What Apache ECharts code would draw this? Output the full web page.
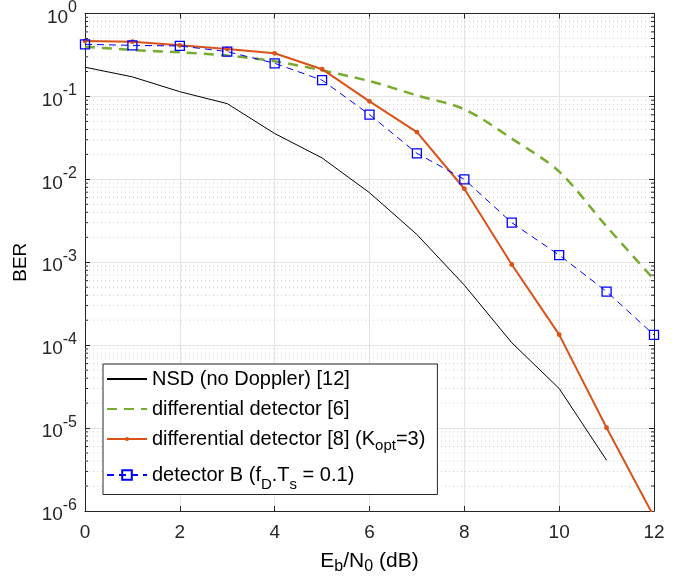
<!DOCTYPE html>
<html>
<head>
<meta charset="utf-8">
<script src="https://cdn.jsdelivr.net/npm/echarts@6/dist/echarts.min.js"></script>
<style>html,body{margin:0;padding:0;background:#fff;}#c{width:686px;height:584px;}</style>
</head>
<body>
<div id="c"></div>
<script>
var ebn0 = [0,1,2,3,4,5,6,7,8,9,10,11,12];
var nsd = [0.225,0.172,0.114,0.0818,0.0357,0.0181,0.0069,0.00216,0.00053,0.000107,0.00003,0.0000041];
var diff6 = [0.398,0.363,0.34,0.311,0.266,0.206,0.153,0.103,0.07,0.031,0.0124,0.0027,0.00062];
var diff8 = [0.466,0.457,0.413,0.373,0.331,0.213,0.0873,0.0371,0.0077,0.00094,0.000134,0.0000101,0.00000085];
var detB = [0.425,0.413,0.406,0.347,0.251,0.157,0.0604,0.0206,0.01,0.003,0.00122,0.000443,0.000133];
var xTicks = [0,2,4,6,8,10,12];
var yMin = 1e-6, yMax = 1;
var minorVals = [];
for (var e = -6; e < 0; e++) { for (var m = 2; m <= 9; m++) { minorVals.push(m * Math.pow(10, e)); } }

function pairs(ys){ return ys.map(function(v,i){ return [ebn0[i], v]; }); }

var FONT = 'Liberation Sans, Arial, Helvetica, sans-serif';
var AX = '#262626';
// small dot inside a 10x10 box (M points extend the bounding box)
var DOT = 'path://M0,0M10,10M7.2,5A2.2,2.2,0,1,1,2.8,5A2.2,2.2,0,1,1,7.2,5Z';

var chart = echarts.init(document.getElementById('c'));
var option = {
  animation: false,
  textStyle: { fontFamily: FONT },
  grid: { left: 85, right: 32, top: 11, bottom: 73, containLabel: false },
  xAxis: [{
    type: 'value', min: 0, max: 12, interval: 2, position: 'bottom',
    name: '{m|E}{s|b}{m|/N}{s|0}{m| (dB)}', nameLocation: 'middle', nameGap: 36,
    nameTextStyle: { rich: { m: { fontSize: 21, color: '#000', fontFamily: FONT }, s: { fontSize: 16, color: '#000', verticalAlign: 'bottom', padding: [12,0,0,0], fontFamily: FONT } } },
    axisLine: { show: true, lineStyle: { color: AX, width: 1 } },
    axisTick: { show: true, inside: true, length: 5, lineStyle: { color: AX } },
    axisLabel: { fontSize: 19, color: '#262626', margin: 12, fontFamily: FONT },
    splitLine: { show: true, lineStyle: { color: '#e3e3e3', width: 1 } }
  }, {
    type: 'value', min: 0, max: 12, interval: 2, position: 'top',
    axisLine: { show: true, onZero: false, lineStyle: { color: AX, width: 1 } },
    axisTick: { show: true, inside: true, length: 5, lineStyle: { color: AX } },
    axisLabel: { show: false }, splitLine: { show: false }
  }],
  yAxis: [{
    type: 'log', logBase: 10, min: yMin, max: yMax, splitNumber: 6, position: 'left',
    name: 'BER', nameLocation: 'middle', nameGap: 54, nameRotate: 90,
    nameTextStyle: { fontSize: 19, color: '#000', fontFamily: FONT },
    axisLine: { show: true, onZero: false, lineStyle: { color: AX, width: 1 } },
    axisTick: { show: true, inside: true, length: 5, lineStyle: { color: AX } },
    axisLabel: {
      margin: 8, color: '#262626',
      formatter: function (v) { var ex = Math.round(Math.log10(v)); return '{b|10}{s|' + (ex === 0 ? '0' : String(ex)) + '}'; },
      rich: { b: { fontSize: 19, color: '#262626', fontFamily: FONT, padding: [8,0,0,0] }, s: { fontSize: 16, color: '#262626', verticalAlign: 'top', padding: [0,0,8,0], fontFamily: FONT } }
    },
    splitLine: { show: true, lineStyle: { color: '#e3e3e3', width: 1 } }
  }, {
    type: 'log', logBase: 10, min: yMin, max: yMax, splitNumber: 6, position: 'right',
    axisLine: { show: true, onZero: false, lineStyle: { color: AX, width: 1 } },
    axisTick: { show: true, inside: true, length: 5, lineStyle: { color: AX } },
    axisLabel: { show: false }, splitLine: { show: false }
  }],
  legend: {
    orient: 'vertical', left: 103, top: 364,
    data: [
      { name: 'nsd', itemStyle: { opacity: 0 } },
      { name: 'diff6', itemStyle: { opacity: 0 } },
      { name: 'diff8' },
      { name: 'detB' }
    ],
    backgroundColor: '#fff', borderColor: AX, borderWidth: 1,
    padding: [5, 12, 2, 3], itemGap: 10, itemWidth: 40, itemHeight: 12,
    formatter: function (n) {
      if (n === 'nsd') return '{m|NSD (no Doppler) [12]}';
      if (n === 'diff6') return '{m|differential detector [6]}';
      if (n === 'diff8') return '{m|differential detector [8] (K}{s|opt}{m|=3)}';
      return '{t|detector B (f}{u|D}{t|.T}{u|s}{t| = 0.1)}';
    },
    textStyle: {
      color: '#000', padding: [0,0,0,0],
      rich: {
        m: { fontSize: 20, color: '#000', fontFamily: FONT },
        s: { fontSize: 15, color: '#000', verticalAlign: 'bottom', padding: [14,0,0,0], fontFamily: FONT },
        t: { fontSize: 20, color: '#000', fontFamily: FONT, lineHeight: 35 },
        u: { fontSize: 15, color: '#000', verticalAlign: 'bottom', padding: [14,0,0,0], fontFamily: FONT, lineHeight: 35 }
      }
    }
  },
  series: [
    {
      type: 'custom', name: 'minor', z: 1, silent: true, clip: true,
      xAxisIndex: 0, yAxisIndex: 0,
      data: minorVals.map(function (v) { return [0, v]; }),
      renderItem: function (params, api) {
        var v = api.value(1);
        var p0 = api.coord([0, v]);
        var p1 = api.coord([12, v]);
        return { type: 'group', children: [
          { type: 'line', shape: { x1: p0[0], y1: p0[1], x2: p1[0], y2: p1[1] }, style: { stroke: '#cfcfcf', lineWidth: 1, lineDash: [1, 3] } },
          { type: 'line', shape: { x1: p0[0], y1: p0[1], x2: p0[0] + 3, y2: p0[1] }, style: { stroke: AX, lineWidth: 1 } },
          { type: 'line', shape: { x1: p1[0], y1: p1[1], x2: p1[0] - 3, y2: p1[1] }, style: { stroke: AX, lineWidth: 1 } }
        ]};
      }
    },
    {
      name: 'nsd', type: 'line', data: pairs(nsd), showSymbol: false, symbol: 'none', z: 3,
      lineStyle: { color: '#000', width: 1 }, itemStyle: { color: '#000' }
    },
    {
      name: 'diff6', type: 'line', data: pairs(diff6), showSymbol: false, symbol: 'none', z: 3, smooth: 0.3,
      lineStyle: { color: '#77AC30', width: 2.5, type: [10, 7] }, itemStyle: { color: '#77AC30' }
    },
    {
      name: 'diff8', type: 'line', data: pairs(diff8), symbol: DOT, symbolSize: 11, z: 4, clip: true,
      lineStyle: { color: '#D95319', width: 2 }, itemStyle: { color: '#D95319' }
    },
    {
      name: 'detB', type: 'line', data: pairs(detB), symbol: 'rect', symbolSize: 9, z: 5,
      lineStyle: { color: '#0000FF', width: 1, type: [7, 5] },
      itemStyle: { color: 'transparent', borderColor: '#0000FF', borderWidth: 1.3 }
    }
  ]
};
chart.setOption(option);
</script>
</body>
</html>
